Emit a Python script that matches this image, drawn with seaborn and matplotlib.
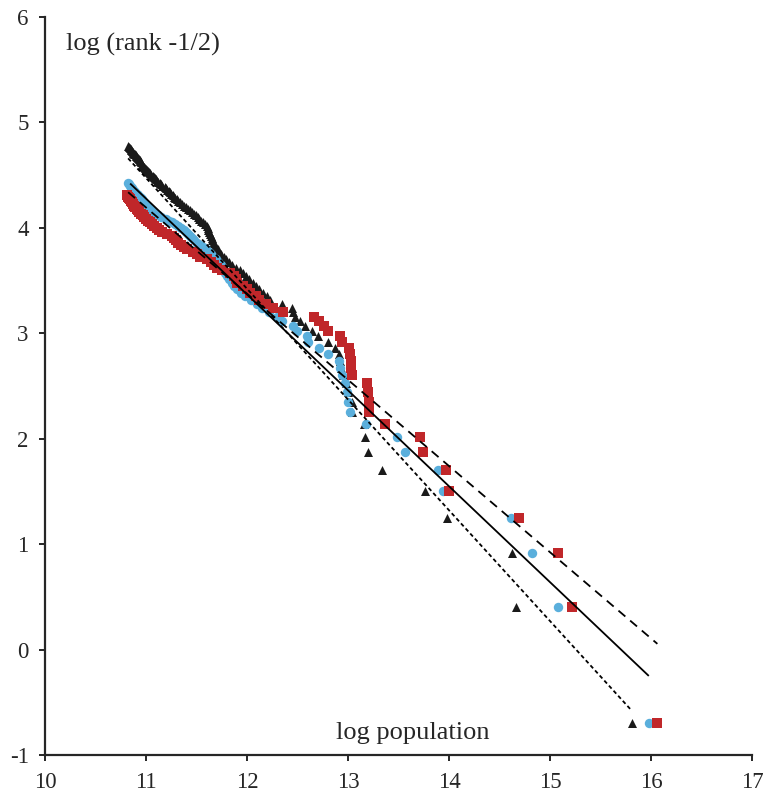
import numpy as np
import pandas as pd
import matplotlib
matplotlib.use("Agg")
import matplotlib.pyplot as plt
import seaborn as sns

# log population per city, ordered by rank (rank 1 = largest)
black_logpop = [
    15.81, 14.665, 14.62, 13.98, 13.76, 13.33, 13.19, 13.17, 13.16, 13.04,
    13.04, 13.00, 12.98, 12.95, 12.93, 12.92, 12.91, 12.87, 12.80, 12.70,
    12.64, 12.57, 12.52, 12.47, 12.45, 12.44, 12.34, 12.22, 12.19, 12.16,
    12.12, 12.09, 12.06, 12.02, 11.99, 11.96, 11.93, 11.89, 11.85, 11.82,
    11.79, 11.77, 11.74, 11.72, 11.71, 11.69, 11.68, 11.66, 11.65, 11.65,
    11.64, 11.63, 11.62, 11.61, 11.61, 11.60, 11.58, 11.56, 11.54, 11.52,
    11.51, 11.49, 11.47, 11.45, 11.43, 11.41, 11.39, 11.37, 11.35, 11.33,
    11.31, 11.30, 11.28, 11.27, 11.26, 11.24, 11.23, 11.22, 11.20, 11.19,
    11.18, 11.16, 11.15, 11.14, 11.12, 11.11, 11.10, 11.09, 11.08, 11.07,
    11.05, 11.04, 11.03, 11.02, 11.01, 11.00, 10.99, 10.98, 10.97, 10.96,
    10.96, 10.95, 10.94, 10.94, 10.93, 10.92, 10.91, 10.90, 10.90, 10.89,
    10.88, 10.87, 10.87, 10.86, 10.85, 10.85, 10.84, 10.83, 10.82,
]
blue_logpop = [
    15.975, 15.077, 14.814, 14.609, 13.939, 13.884, 13.56, 13.478, 13.174, 13.016,
    12.999, 12.989, 12.969, 12.933, 12.917, 12.907, 12.801, 12.712, 12.603, 12.593,
    12.494, 12.454, 12.34, 12.29, 12.21, 12.15, 12.10, 12.04, 11.98, 11.94,
    11.90, 11.87, 11.85, 11.82, 11.80, 11.78, 11.76, 11.75, 11.74, 11.71,
    11.69, 11.66, 11.64, 11.62, 11.59, 11.56, 11.53, 11.50, 11.47, 11.45,
    11.43, 11.41, 11.39, 11.37, 11.34, 11.31, 11.28, 11.25, 11.22, 11.19,
    11.15, 11.12, 11.09, 11.07, 11.05, 11.03, 11.02, 11.00, 10.99, 10.98,
    10.97, 10.96, 10.95, 10.94, 10.92, 10.91, 10.89, 10.88, 10.87, 10.86,
    10.85, 10.84, 10.83, 10.82,
]
red_logpop = [
    16.054, 15.216, 15.074, 14.688, 13.993, 13.966, 13.735, 13.708, 13.365, 13.207,
    13.201, 13.194, 13.184, 13.035, 13.028, 13.023, 13.016, 13.006, 12.939, 12.917,
    12.801, 12.761, 12.712, 12.659, 12.355, 12.257, 12.18, 12.12, 12.09, 12.03,
    12.00, 11.96, 11.90, 11.89, 11.87, 11.83, 11.75, 11.70, 11.67, 11.64,
    11.60, 11.53, 11.50, 11.46, 11.40, 11.37, 11.34, 11.31, 11.29, 11.27,
    11.25, 11.20, 11.16, 11.13, 11.11, 11.08, 11.06, 11.04, 11.02, 11.00,
    10.98, 10.97, 10.95, 10.93, 10.92, 10.91, 10.89, 10.88, 10.87, 10.86,
    10.85, 10.84, 10.83, 10.82, 10.81,
]

# fitted lines: slope, intercept, x range
fit_slope = [-0.909, -0.817, -1.05]
fit_intercept = [14.274, 13.178, 16.02]
fit_xmin = [10.84, 10.82, 10.82]
fit_xmax = [15.975, 16.06, 15.80]

x_ticks = [10, 11, 12, 13, 14, 15, 16, 17]
y_ticks = [-1, 0, 1, 2, 3, 4, 5, 6]


def zipf_frame(logpop, name):
    rank = np.arange(1, len(logpop) + 1)
    return pd.DataFrame({"logpop": logpop, "logrank": np.log(rank - 0.5), "serie": name})


df = pd.concat([
    zipf_frame(black_logpop, "black"),
    zipf_frame(blue_logpop, "blue"),
    zipf_frame(red_logpop, "red"),
])

sns.set_style("ticks")
plt.rcParams["font.family"] = ["Liberation Serif", "DejaVu Serif"]
plt.rcParams["axes.unicode_minus"] = False

fig = plt.figure(figsize=(7.63, 7.94), dpi=100)
ax = fig.add_axes([0.0594, 0.0487, 0.9266, 0.93])

colores = {"black": "#1a1a1a", "blue": "#5aafdc", "red": "#c0272a"}
marcadores = {"black": "^", "blue": "o", "red": "s"}
tamanos = {"black": 42, "blue": 46, "red": 46}

for serie in ["black", "blue", "red"]:
    sns.scatterplot(
        data=df[df["serie"] == serie], x="logpop", y="logrank",
        color=colores[serie], marker=marcadores[serie], s=tamanos[serie],
        linewidth=0, ax=ax, legend=False, zorder=2,
    )

estilos = [(0, ()), (0, (5, 3.5)), (0, (2.2, 1.6))]
for i in range(3):
    xs = np.array([fit_xmin[i], fit_xmax[i]])
    ax.plot(xs, fit_intercept[i] + fit_slope[i] * xs, color="black",
            lw=1.3, linestyle=estilos[i], zorder=3)

ax.set_xlim(10, 17)
ax.set_ylim(-1, 6)
ax.set_xticks(x_ticks)
ax.set_yticks(y_ticks)
ax.set_xlabel("")
ax.set_ylabel("")
sns.despine(ax=ax)
for s in ["left", "bottom"]:
    ax.spines[s].set_linewidth(1.6)
ax.tick_params(direction="out", length=4, width=1.4, labelsize=16.5, pad=8)

ax.text(10.2, 5.74, "log (rank -1/2)", fontsize=19, va="center", ha="left")
ax.text(13.64, -0.79, "log population", fontsize=19, va="center", ha="center")

fig.savefig("out.png", dpi=100)
